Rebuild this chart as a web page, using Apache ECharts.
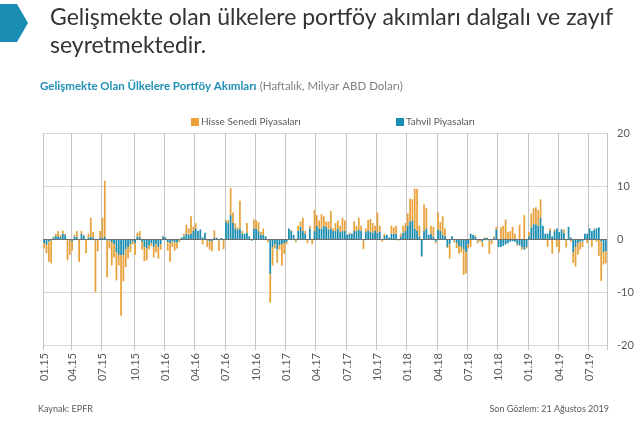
<!DOCTYPE html>
<html><head><meta charset="utf-8">
<script src="https://cdn.jsdelivr.net/npm/echarts@6/dist/echarts.min.js"></script>
<style>html,body{margin:0;padding:0;background:#fff}#c{width:640px;height:422px}</style>
</head><body><div id="c"></div>
<script>
const nameHisse = 'Hisse Senedi Piyasaları';
const nameTahvil = 'Tahvil Piyasaları';
const firstWeek = '2015-01-07';
const yMin = -20, yMax = 20, yStep = 10;

const tahvil = [
-0.8,-1.1,-0.5,-0.3,0.3,0.6,0.5,0.4,1.0,0.8,
-0.2,-0.3,-0.4,0.5,0.4,-0.2,1.0,0.6,-0.2,0.3,
0.4,0.3,-0.3,-0.2,0.3,0.2,0.4,-0.3,-0.3,-0.6,
-1.0,-2.5,-3.0,-3.0,-3.0,-2.0,-1.5,-1.0,-0.4,-0.8,
0.5,0.4,-0.5,-1.5,-1.8,-1.2,-0.8,-1.5,-1.0,-1.5,
-1.0,0.5,0.3,-0.6,-0.8,-0.5,-0.6,-0.7,-0.3,0.3,
0.5,1.0,0.8,1.0,1.5,2.0,1.5,1.8,0.3,1.2,
-0.3,-0.4,-0.4,0.3,0.2,-0.3,0.2,-0.3,3.3,3.0,
4.5,3.0,2.0,1.8,2.0,1.0,1.0,1.2,0.5,-0.3,
2.0,2.0,1.5,0.8,0.8,0.5,-0.2,-6.6,-1.5,-1.0,
-2.0,-1.2,-1.0,-0.8,-0.6,2.0,1.5,0.8,-0.3,1.5,
2.3,1.5,1.0,-0.2,2.0,-0.2,1.5,2.5,2.0,2.0,
2.5,2.3,1.8,2.0,1.5,1.5,2.0,1.3,1.5,1.5,
0.8,1.0,1.0,1.5,1.5,1.8,1.5,-0.3,1.3,1.6,
1.4,1.2,1.5,1.2,1.4,-0.2,0.6,0.8,0.3,1.0,
1.0,1.0,-0.1,0.5,1.2,1.5,2.5,3.3,3.5,2.0,
1.5,0.5,-3.3,1.5,2.0,0.8,1.0,0.5,-0.5,1.8,
1.5,0.8,0.5,-1.5,-1.0,0.5,-0.3,-0.8,-1.3,-1.5,
-2.0,-2.5,-1.0,1.0,0.8,0.5,-0.3,-0.2,-0.5,0.2,
0.2,-0.3,-0.3,0.3,1.8,-1.5,-1.5,-1.3,-1.0,-0.8,
-0.5,-0.4,-0.5,-1.0,-1.2,-1.5,-2.0,-1.5,0.5,2.2,
2.8,2.8,2.5,4.0,2.5,1.0,1.0,1.5,0.5,1.5,
2.0,1.3,1.8,1.2,-0.3,2.3,0.3,-2.5,-1.5,-0.8,
-0.5,-0.5,1.0,1.0,2.0,1.5,1.8,2.0,2.2,-0.5,
-2.5,-2.3
];

const hisse = [
-1.0,-1.6,-3.8,-4.3,0.2,0.4,1.0,0.4,0.6,0.2,
-3.8,-2.7,-1.8,0.3,1.1,-4.1,0.5,0.2,-2.5,0.7,
3.6,1.0,-9.7,-2.1,1.2,3.8,10.6,-6.9,-1.5,-4.4,
-2.5,-5.3,-2.0,-11.5,-5.0,-3.3,-2.2,-1.5,-0.6,-2.2,
0.7,1.1,-1.5,-2.7,-2.2,-0.8,-0.5,-2.0,-1.5,-2.2,
-1.0,0.1,0.0,-1.6,-3.5,-1.0,-1.6,-1.1,-0.3,0.0,
0.5,1.7,1.2,3.3,0.8,1.0,0.0,0.0,-1.0,0.0,
-1.2,-1.6,-1.9,1.3,0.1,-1.9,0.0,-1.6,0.3,0.6,
5.1,2.0,1.0,0.4,5.2,0.5,0.0,1.8,0.0,0.0,
1.7,1.5,1.7,0.5,1.2,0.0,-0.4,-5.4,-3.5,-0.8,
-2.5,-0.8,-4.0,-2.0,-0.4,0.0,0.2,0.0,-0.3,1.0,
1.0,2.5,0.5,-0.6,0.5,-0.8,4.0,2.0,1.5,2.7,
1.8,1.0,1.5,3.3,0.5,1.5,1.5,1.2,2.5,2.0,
0.0,0.2,0.0,1.8,1.0,2.2,1.0,-1.6,0.7,2.0,
2.4,1.8,1.0,3.8,1.1,-0.3,0.4,0.0,0.0,1.5,
1.2,1.5,-0.2,0.5,1.3,1.5,2.3,4.3,4.0,7.5,
8.0,2.0,0.0,5.0,3.8,0.0,1.5,1.8,-0.3,3.2,
1.7,3.5,1.5,-0.2,-2.7,0.0,-0.4,-0.9,-1.5,-1.0,
-4.8,-4.0,-0.8,-1.5,0.0,0.2,-0.5,-0.3,-1.0,0.1,
0.1,-2.5,-0.7,0.2,0.5,0.0,2.2,2.5,3.7,1.3,
1.5,2.3,1.0,-0.3,2.7,-0.5,4.5,-0.3,0.8,2.6,
3.0,3.2,3.0,3.5,0.0,0.0,-1.5,0.5,-2.8,0.3,
-1.5,-2.5,0.0,0.6,-1.3,0.0,-0.5,-2.0,-3.7,-2.2,
-1.5,-1.0,0.0,-0.8,0.0,-1.5,0.2,-0.5,-3.2,-7.4,
-2.3,-2.3
];

// weekly category labels (dates of each weekly observation)
const categories = [];
(function(){
  const p = firstWeek.split('-').map(Number);
  const t0 = Date.UTC(p[0], p[1]-1, p[2]);
  for (let i = 0; i < hisse.length; i++) {
    categories.push(new Date(t0 + i*7*86400000).toISOString().slice(0,10));
  }
})();
function isQuarterStart(i){
  const m = +categories[i].slice(5,7);
  if (i === 0) return true;
  const pm = +categories[i-1].slice(5,7);
  return m !== pm && (m - 1) % 3 === 0;
}
function fmtLabel(v){ return v.slice(5,7) + '.' + v.slice(2,4); }

const FONT = 'Lato';
const chart = echarts.init(document.getElementById('c'), null, {renderer:'canvas'});
chart.setOption({
  animation: false,
  backgroundColor: '#ffffff',
  textStyle: {fontFamily: FONT},
  grid: {left: 43, right: 33, top: 133, bottom: 77, containLabel: false},
  legend: [
    {data: [nameHisse], left: 186, top: 112, icon: 'rect', itemWidth: 8, itemHeight: 8,
     textStyle: {fontSize: 10, color: '#595959', fontFamily: FONT, padding: [0,0,0,-3]}, selectedMode: false},
    {data: [nameTahvil], left: 391, top: 112, icon: 'rect', itemWidth: 8, itemHeight: 8,
     textStyle: {fontSize: 10, color: '#595959', fontFamily: FONT, padding: [0,0,0,-3]}, selectedMode: false}
  ],
  xAxis: {
    type: 'category', data: categories,
    axisLine: {show: false, onZero: false},
    axisTick: {show: true, interval: (i) => isQuarterStart(i), length: 5, lineStyle: {color: '#c4c4c4'}},
    axisLabel: {interval: (i) => isQuarterStart(i), rotate: 90, formatter: fmtLabel, color: '#595959', fontSize: 11, margin: 8, fontFamily: FONT},
    splitLine: {show: true, interval: (i) => isQuarterStart(i), lineStyle: {color: '#c4c4c4', width: 1}}
  },
  yAxis: {
    type: 'value', position: 'right', min: yMin, max: yMax, interval: yStep,
    axisLine: {show: false}, axisTick: {show: false},
    axisLabel: {color: '#595959', fontSize: 11, margin: 10, fontFamily: FONT},
    splitLine: {lineStyle: {color: '#d9d9d9', width: 1}}
  },
  series: [
    {name: nameTahvil, type: 'bar', stack: 'flows', data: tahvil, barCategoryGap: '25%',
     itemStyle: {color: '#1B8DB0'}},
    {name: nameHisse, type: 'bar', stack: 'flows', data: hisse, barCategoryGap: '25%',
     itemStyle: {color: '#E9A23B'},
     markLine: {silent: true, symbol: ['none','none'], label: {show: false},
       lineStyle: {color: '#6f6f6f', width: 1, type: 'solid'}, data: [{yAxis: 0}]}}
  ],
  graphic: [
    {type: 'polygon', shape: {points: [[0,4],[17,4],[28,23],[17,42],[0,42]]}, style: {fill: '#1A8DB3'}},
    {type: 'text', left: 50, top: 6, style: {text: 'Gelişmekte olan ülkelere portföy akımları dalgalı ve zayıf', font: '23px ' + FONT, fill: '#333333'}},
    {type: 'text', left: 50, top: 34, style: {text: 'seyretmektedir.', font: '23px ' + FONT, fill: '#333333'}},
    {type: 'text', left: 40, top: 80, style: {
      text: '{b|Gelişmekte Olan Ülkelere Portföy Akımları} {n|(Haftalık, Milyar ABD Doları)}',
      rich: {b: {fontSize: 11.5, fontWeight: 'bold', fill: '#1F8FB5', fontFamily: FONT},
             n: {fontSize: 11.5, fill: '#808080', fontFamily: FONT}}}},
    {type: 'text', left: 38, top: 405, style: {text: 'Kaynak: EPFR', font: '9px ' + FONT, fill: '#595959'}},
    {type: 'text', right: 31, top: 405, style: {text: 'Son Gözlem: 21 Ağustos 2019', font: '9px ' + FONT, fill: '#595959', textAlign: 'right'}}
  ]
});
</script>
</body></html>
